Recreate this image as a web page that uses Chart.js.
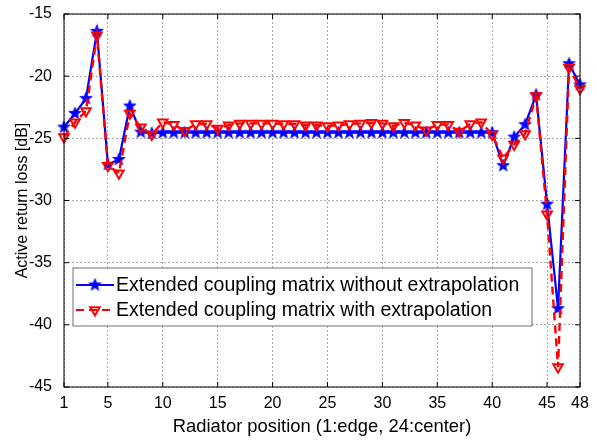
<!DOCTYPE html>
<html>
<head>
<meta charset="utf-8">
<script src="https://cdn.jsdelivr.net/npm/chart.js@4"></script>
<style>
  body { margin: 0; background: #fff; }
  #wrap { width: 597px; height: 441px; }
</style>
</head>
<body>
<div id="wrap"><canvas id="returnLossChart" width="597" height="441"></canvas></div>
<script>
// Radiator index along the array (1 = edge, 24 = center)
const positions = [1, 2, 3, 4, 5, 6, 7, 8, 9, 10, 11, 12, 13, 14, 15, 16, 17, 18, 19, 20, 21, 22, 23, 24,
                   25, 26, 27, 28, 29, 30, 31, 32, 33, 34, 35, 36, 37, 38, 39, 40, 41, 42, 43, 44, 45, 46, 47, 48];

// Active return loss [dB]
const withoutExtrapolation = [-24.1, -23.0, -21.8, -16.4, -27.1, -26.7, -22.4, -24.5, -24.6, -24.55,
                              -24.55, -24.55, -24.55, -24.55, -24.55, -24.55, -24.55, -24.55, -24.55, -24.55,
                              -24.55, -24.55, -24.55, -24.55, -24.55, -24.55, -24.55, -24.55, -24.55, -24.55,
                              -24.55, -24.55, -24.55, -24.55, -24.55, -24.55, -24.55, -24.55, -24.55, -24.55,
                              -27.2, -24.9, -23.9, -21.5, -30.3, -38.7, -19.0, -20.7];

const withExtrapolation = [-24.9, -23.7, -22.8, -16.7, -27.2, -27.8, -23.0, -24.1, -24.7, -23.7,
                           -23.9, -24.4, -23.85, -23.85, -24.2, -23.95, -23.8, -23.8, -23.8, -23.8,
                           -23.85, -23.85, -23.95, -23.95, -24.0, -23.95, -23.85, -23.8, -23.75, -23.8,
                           -24.0, -23.75, -23.95, -24.35, -23.9, -23.9, -24.45, -23.85, -23.7, -24.7,
                           -26.6, -25.5, -24.65, -21.6, -31.1, -43.4, -19.3, -21.0];

const xTickValues = [1, 5, 10, 15, 20, 25, 30, 35, 40, 45, 48];
const yTickValues = [-45, -40, -35, -30, -25, -20, -15];

const seriesLabels = ['Extended coupling matrix without extrapolation',
                      'Extended coupling matrix with extrapolation'];

const FONT = "'Liberation Sans', Arial, Helvetica, sans-serif";
const BLUE = '#0000ff';
const RED = '#ff0000';

// filled five-point star used as the blue marker
function makeStar(outer, color) {
  const c = document.createElement('canvas');
  const size = Math.ceil(outer * 2 + 2);
  c.width = size; c.height = size;
  const g = c.getContext('2d');
  const cx = size / 2, cy = size / 2, inner = outer * 0.42;
  g.beginPath();
  for (let i = 0; i < 10; i++) {
    const r = i % 2 === 0 ? outer : inner;
    const a = -Math.PI / 2 + i * Math.PI / 5;
    g.lineTo(cx + r * Math.cos(a), cy + r * Math.sin(a));
  }
  g.closePath();
  g.fillStyle = color;
  g.fill();
  g.strokeStyle = color;
  g.lineWidth = 0.8;
  g.stroke();
  return c;
}
const starImg = makeStar(6.5, BLUE);

function drawDownTriangle(ctx, x, y, r) {
  ctx.beginPath();
  ctx.moveTo(x, y + r);
  ctx.lineTo(x - r * Math.sin(Math.PI / 3), y - r / 2);
  ctx.lineTo(x + r * Math.sin(Math.PI / 3), y - r / 2);
  ctx.closePath();
  ctx.stroke();
}

// plot frame with inward ticks, plus the boxed legend inside the axes
const frameAndLegend = {
  id: 'frameAndLegend',
  afterDraw(chart) {
    const { ctx, chartArea: a, scales: { x, y } } = chart;
    ctx.save();
    ctx.strokeStyle = '#000';
    ctx.lineWidth = 1;
    ctx.strokeRect(a.left, a.top, a.right - a.left, a.bottom - a.top);

    const tl = 5;
    ctx.beginPath();
    xTickValues.forEach(v => {
      const px = x.getPixelForValue(v);
      ctx.moveTo(px, a.bottom); ctx.lineTo(px, a.bottom - tl);
      ctx.moveTo(px, a.top); ctx.lineTo(px, a.top + tl);
    });
    yTickValues.forEach(v => {
      const py = y.getPixelForValue(v);
      ctx.moveTo(a.left, py); ctx.lineTo(a.left + tl, py);
      ctx.moveTo(a.right, py); ctx.lineTo(a.right - tl, py);
    });
    ctx.stroke();

    // legend box
    const bx = a.left + 9, by = a.bottom - 119, bw = 459, bh = 58;
    ctx.fillStyle = '#fff';
    ctx.fillRect(bx, by, bw, bh);
    ctx.strokeStyle = '#707070';
    ctx.strokeRect(bx, by, bw, bh);

    const rows = [by + 17, by + 42];
    const lx0 = bx + 3, lx1 = bx + 41, mx = bx + 22;

    ctx.lineWidth = 2;
    ctx.strokeStyle = BLUE;
    ctx.beginPath(); ctx.moveTo(lx0, rows[0]); ctx.lineTo(lx1, rows[0]); ctx.stroke();
    ctx.drawImage(starImg, mx - starImg.width / 2, rows[0] - starImg.height / 2);

    ctx.strokeStyle = RED;
    ctx.setLineDash([8, 5]);
    ctx.beginPath(); ctx.moveTo(lx0, rows[1]); ctx.lineTo(lx1, rows[1]); ctx.stroke();
    ctx.setLineDash([]);
    drawDownTriangle(ctx, mx, rows[1], 5.5);

    ctx.fillStyle = '#000';
    ctx.font = '19.5px ' + FONT;
    ctx.textBaseline = 'middle';
    ctx.textAlign = 'left';
    ctx.fillText(seriesLabels[0], bx + 43, rows[0] + 1);
    ctx.fillText(seriesLabels[1], bx + 43, rows[1] + 1);
    ctx.restore();
  }
};

const ctx = document.getElementById('returnLossChart').getContext('2d');

new Chart(ctx, {
  type: 'line',
  data: {
    labels: positions,
    datasets: [{
      label: seriesLabels[0],
      data: positions.map((p, i) => ({ x: p, y: withoutExtrapolation[i] })),
      borderColor: BLUE,
      backgroundColor: BLUE,
      borderWidth: 2.2,
      pointStyle: starImg,
      pointRadius: 6,
      pointHoverRadius: 6,
      tension: 0,
      clip: false,
      order: 2
    }, {
      label: seriesLabels[1],
      data: positions.map((p, i) => ({ x: p, y: withExtrapolation[i] })),
      borderColor: RED,
      backgroundColor: 'rgba(255,255,255,0)',
      borderWidth: 2.4,
      borderDash: [8, 5],
      pointStyle: 'triangle',
      pointRotation: 180,
      pointRadius: 5.5,
      pointBorderWidth: 2,
      pointBorderColor: RED,
      pointBackgroundColor: 'rgba(255,255,255,0)',
      tension: 0,
      clip: false,
      order: 1
    }]
  },
  options: {
    responsive: false,
    animation: false,
    events: [],
    layout: { padding: { left: 0, right: 17, top: 14, bottom: 0 } },
    plugins: {
      legend: { display: false },
      tooltip: { enabled: false }
    },
    scales: {
      x: {
        type: 'linear',
        min: 1,
        max: 48,
        afterBuildTicks: scale => { scale.ticks = xTickValues.map(v => ({ value: v })); },
        afterFit: scale => {
          scale.height = 54;
          scale.paddingLeft = 0;
          scale.paddingRight = 0;
        },
        ticks: {
          autoSkip: false,
          maxRotation: 0,
          padding: 7,
          color: '#000',
          font: { family: FONT, size: 16 }
        },
        grid: { color: '#a8a8a8', lineWidth: 1, drawTicks: false },
        border: { display: false, dash: [2, 2] },
        title: {
          display: true,
          text: 'Radiator position (1:edge, 24:center)',
          color: '#000',
          font: { family: FONT, size: 18.4 },
          padding: { top: 0, bottom: 3 }
        }
      },
      y: {
        min: -45,
        max: -15,
        afterBuildTicks: scale => { scale.ticks = yTickValues.map(v => ({ value: v })); },
        afterFit: scale => {
          scale.width = 64;
          scale.paddingTop = 0;
          scale.paddingBottom = 0;
        },
        ticks: {
          padding: 12,
          color: '#000',
          font: { family: FONT, size: 16 }
        },
        grid: { color: '#a8a8a8', lineWidth: 1, drawTicks: false },
        border: { display: false, dash: [2, 2] },
        title: {
          display: true,
          text: 'Active return loss [dB]',
          color: '#000',
          font: { family: FONT, size: 16 },
          padding: { top: 13, bottom: 0 }
        }
      }
    }
  },
  plugins: [frameAndLegend]
});
</script>
</body>
</html>
